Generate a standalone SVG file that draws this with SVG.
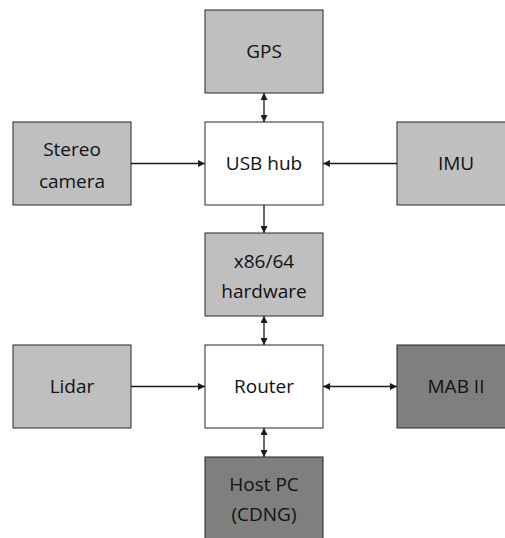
<svg xmlns="http://www.w3.org/2000/svg" width="505" height="538" viewBox="0 0 505 538">
<style>
.box{stroke:#262626;stroke-width:1}
.light{fill:#BFBFBF}
.dark{fill:#7F7F7F}
.white{fill:#FFFFFF}
text{font-family:"Open Sans","Noto Sans","Liberation Sans",sans-serif;font-size:19px;fill:#111111;text-anchor:middle}
.conn{stroke:#1a1a1a;stroke-width:1.3;fill:none}
</style>
<defs>
<marker id="ah" viewBox="0 0 8 8" refX="8" refY="4" markerWidth="7" markerHeight="7" markerUnits="userSpaceOnUse" orient="auto-start-reverse">
<path d="M0,0 L8,4 L0,8 Z" fill="#1a1a1a"/>
</marker>
</defs>
<rect width="505" height="538" fill="#FFFFFF"/>
<g id="connectors">
<line class="conn" x1="264" y1="93" x2="264" y2="122" marker-start="url(#ah)" marker-end="url(#ah)"/>
<line class="conn" x1="131" y1="163.5" x2="205" y2="163.5" marker-end="url(#ah)"/>
<line class="conn" x1="397" y1="163.5" x2="323" y2="163.5" marker-end="url(#ah)"/>
<line class="conn" x1="264" y1="205" x2="264" y2="233" marker-end="url(#ah)"/>
<line class="conn" x1="264" y1="316" x2="264" y2="345" marker-start="url(#ah)" marker-end="url(#ah)"/>
<line class="conn" x1="131" y1="386.5" x2="205" y2="386.5" marker-end="url(#ah)"/>
<line class="conn" x1="323" y1="386.5" x2="397" y2="386.5" marker-start="url(#ah)" marker-end="url(#ah)"/>
<line class="conn" x1="264" y1="428" x2="264" y2="457" marker-start="url(#ah)" marker-end="url(#ah)"/>
</g>
<g id="gps"><rect class="box light" x="205" y="10" width="118" height="83"/><text x="264" y="58">GPS</text></g>
<g id="stereo"><rect class="box light" x="13" y="122" width="118" height="83"/><text x="72" y="156">Stereo</text><text x="72" y="188">camera</text></g>
<g id="usbhub"><rect class="box white" x="205" y="122" width="118" height="83"/><text x="264" y="170">USB hub</text></g>
<g id="imu"><rect class="box light" x="397" y="122" width="118" height="83"/><text x="456" y="170">IMU</text></g>
<g id="x86"><rect class="box light" x="205" y="233" width="118" height="83"/><text x="264" y="268">x86/64</text><text x="264" y="298">hardware</text></g>
<g id="lidar"><rect class="box light" x="13" y="345" width="118" height="83"/><text x="72" y="393">Lidar</text></g>
<g id="router"><rect class="box white" x="205" y="345" width="118" height="83"/><text x="264" y="393">Router</text></g>
<g id="mab"><rect class="box dark" x="397" y="345" width="118" height="83"/><text x="456" y="393">MAB II</text></g>
<g id="hostpc"><rect class="box dark" x="205" y="457" width="118" height="90"/><text x="264" y="491">Host PC</text><text x="264" y="521">(CDNG)</text></g>
</svg>
